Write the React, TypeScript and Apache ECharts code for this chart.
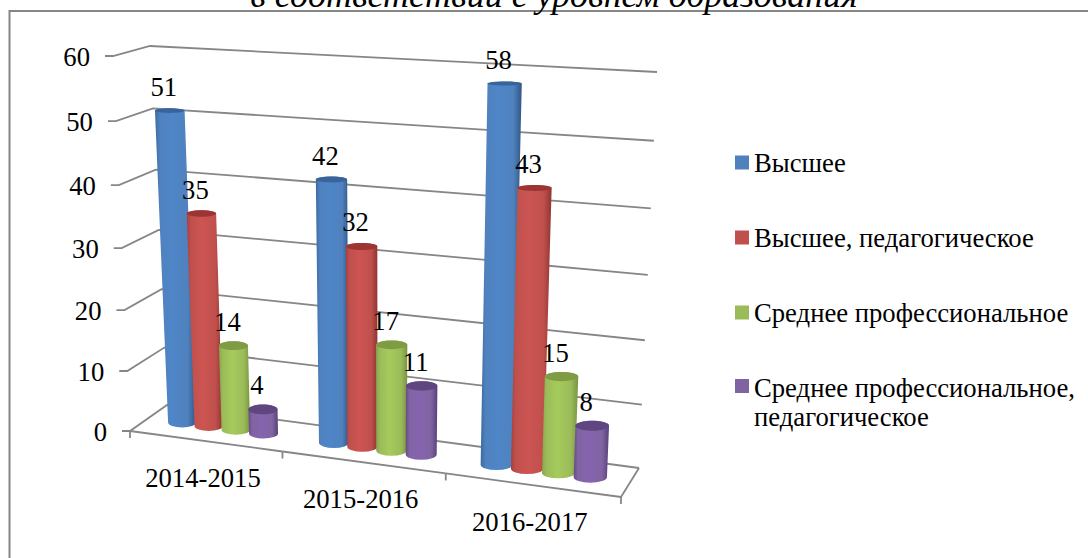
import React, { useEffect, useRef } from "react";
import * as echarts from "echarts";

const categories = ["2014-2015", "2015-2016", "2016-2017"];
const seriesNames = ["Высшее", "Высшее, педагогическое", "Среднее профессиональное", "Среднее профессиональное, педагогическое"];
const vysshee = [51, 42, 58];
const vysheePed = [35, 32, 43];
const srednee = [14, 17, 15];
const sredneePed = [4, 11, 8];
const yTicks = [0, 10, 20, 30, 40, 50, 60];
const titleText = "в соответствии с уровнем образования";

const FONT = '"Liberation Serif", "Times New Roman", serif';
const FS = 26.67;
const GRID = { left: 130, top: 56, width: 491, height: 375 };
// corners of the 3D box on screen
const C = {
  f0: [130, 431], f1: [621, 497], b0: [167, 405], b1: [639, 468],
  F0: [113, 56], F1: [639, 82], B0: [150, 46], B1: [657, 72],
};
const warp = (t: number, k: number) => t / (t + k * (1 - t));
const lerp = (a: number, b: number, t: number) => a + (b - a) * t;
// u,w are normalised 0..1 along the hidden grid, v is depth 0..1
function project(u: number, v: number, w: number) {
  const fu = warp(u, 1.11), fw = warp(w, 1.05);
  const out = [0, 0];
  for (let i = 0; i < 2; i++) {
    const bottom = lerp(lerp(C.f0[i], C.f1[i], fu), lerp(C.b0[i], C.b1[i], fu), v);
    const top = lerp(lerp(C.F0[i], C.F1[i], fu), lerp(C.B0[i], C.B1[i], fu), v);
    out[i] = lerp(bottom, top, fw);
  }
  return out;
}
function normal(api: any, u: number, val: number) {
  const p = api.coord([u, val]);
  return [(p[0] - GRID.left) / GRID.width, (GRID.top + GRID.height - p[1]) / GRID.height];
}

const palette = [
  { top: "#38649b", edgeL: "#3a6aa6", mid: "#4f86c8", edgeR: "#2f5686", base: "#4f81bd" },
  { top: "#9c3532", edgeL: "#a83f3c", mid: "#cc5552", edgeR: "#8f3431", base: "#c0504d" },
  { top: "#7f9c45", edgeL: "#86a64a", mid: "#a5cb5c", edgeR: "#789440", base: "#9bbb59" },
  { top: "#5f4680", edgeL: "#654b88", mid: "#8664ae", edgeR: "#57407a", base: "#8064a2" },
];
const OFFSETS = [0.23, 0.41, 0.592, 0.775];
const HALF_U = 0.095;
const HALF_V = 0.19;
const LINE = "#868686";

function barRender(sIdx: number) {
  return (params: any, api: any) => {
    const cat = api.value(0), val = api.value(1);
    const uc = cat + OFFSETS[sIdx];
    const [nu, nb] = normal(api, uc, 0);
    const [nl] = normal(api, uc - HALF_U, 0);
    const [nr] = normal(api, uc + HALF_U, 0);
    const nt = normal(api, uc, val)[1];
    const b = project(nu, 0.5, nb), t = project(nu, 0.5, nt);
    const bl = project(nl, 0.5, nb), br = project(nr, 0.5, nb);
    const tl = project(nl, 0.5, nt), tr = project(nr, 0.5, nt);
    const ryB = Math.abs(project(nu, 0.5 + HALF_V, nb)[1] - project(nu, 0.5 - HALF_V, nb)[1]) / 2;
    const ryT = Math.abs(project(nu, 0.5 + HALF_V, nt)[1] - project(nu, 0.5 - HALF_V, nt)[1]) / 2;
    const rxB = (br[0] - bl[0]) / 2, rxT = (tr[0] - tl[0]) / 2;
    const col = palette[sIdx];
    const d =
      `M${tl[0]} ${t[1]} A${rxT} ${ryT} 0 0 1 ${tr[0]} ${t[1]} L${br[0]} ${b[1]} ` +
      `A${rxB} ${ryB} 0 0 1 ${bl[0]} ${b[1]} Z`;
    return {
      type: "group",
      children: [
        {
          type: "path",
          shape: { pathData: d, x: Math.min(tl[0], bl[0]), y: t[1] - ryT, width: Math.max(tr[0], br[0]) - Math.min(tl[0], bl[0]), height: b[1] + ryB - t[1] + ryT },
          style: {
            fill: new echarts.graphic.LinearGradient(0, 0, 1, 0, [
              { offset: 0, color: col.edgeL },
              { offset: 0.12, color: col.base },
              { offset: 0.42, color: col.mid },
              { offset: 0.8, color: col.base },
              { offset: 1, color: col.edgeR },
            ]),
          },
        },
        { type: "ellipse", shape: { cx: t[0], cy: t[1], rx: rxT, ry: ryT }, style: { fill: col.top } },
        {
          type: "text",
          z2: 100,
          style: { text: String(val), x: t[0] - 6, y: t[1] - 24, align: "center", verticalAlign: "middle", font: `${FS}px ${FONT}`, fill: "#000" },
        },
      ],
    };
  };
}

function wallRender(params: any, api: any) {
  const val = api.value(0);
  const n = normal(api, 0, val)[1];
  const a = project(0, 0, n), b = project(0, 1, n), c = project(1, 1, n);
  const ls = { stroke: LINE, lineWidth: 1.8, fill: "none" };
  const ch: any[] = [
    { type: "polyline", shape: { points: [[a[0] - 8, a[1]], a, b, c] }, style: ls },
    {
      type: "text",
      style: { text: String(val), x: a[0] - 23, y: a[1] + 1, align: "right", verticalAlign: "middle", font: `${FS}px ${FONT}`, fill: "#000" },
    },
  ];
  return { type: "group", children: ch };
}

function floorRender(params: any, api: any) {
  const i = api.value(0);
  const n = normal(api, i, 0)[0];
  const n2 = normal(api, i + 1, 0)[0];
  const nm = normal(api, i + 0.5, 0)[0];
  const a = project(n, 0, 0), b = project(n2, 0, 0), m = project(nm, 0, 0);
  const ls = { stroke: LINE, lineWidth: 1.8, fill: "none" };
  return {
    type: "group",
    children: [
      { type: "line", shape: { x1: a[0], y1: a[1], x2: b[0], y2: b[1] }, style: ls },
      { type: "line", shape: { x1: b[0], y1: b[1], x2: b[0], y2: b[1] + 7 }, style: ls },
      ...(i === 0 ? [{ type: "line", shape: { x1: a[0], y1: a[1], x2: a[0], y2: a[1] + 7 }, style: ls }] : []),
      ...(i === 2
        ? [{ type: "polyline", shape: { points: [b, project(1, 1, 0)] }, style: ls }]
        : []),
      {
        type: "text",
        style: { text: categories[i], x: m[0] - 2, y: m[1] + 37, align: "center", verticalAlign: "middle", font: `${FS}px ${FONT}`, fill: "#000" },
      },
    ],
  };
}

const valueLists = [vysshee, vysheePed, srednee, sredneePed];

export default function App() {
  const ref = useRef<HTMLDivElement>(null);
  useEffect(() => {
    document.body.style.margin = "0";
    const chart = echarts.init(ref.current!, undefined, { renderer: "svg" });
    chart.setOption({
      animation: false,
      backgroundColor: "#fff",
      title: {
        text: titleText,
        left: 549,
        textAlign: "center",
        top: -28,
        textStyle: { fontFamily: FONT, fontStyle: "italic", fontWeight: "normal", fontSize: 36, color: "#000" },
      },
      graphic: [
        { type: "polyline", shape: { points: [[9.5, 560], [9.5, 11], [1090, 11]] }, style: { fill: "none", stroke: LINE, lineWidth: 2 }, z: -1 },
      ],
      grid: { ...GRID },
      xAxis: { type: "value", min: 0, max: 3, show: false },
      yAxis: { type: "value", min: 0, max: 60, interval: 10, show: false },
      legend: {
        orient: "vertical",
        left: 735,
        top: 149,
        padding: 0,
        itemWidth: 14,
        itemHeight: 14,
        itemGap: 48,
        selectedMode: false,
        icon: "rect",
        textStyle: {
          fontFamily: FONT,
          fontSize: FS,
          color: "#000",
          rich: { a: { fontFamily: FONT, fontSize: FS, lineHeight: 29, color: "#000" } },
        },
        formatter: (n: string) =>
          n.startsWith("Среднее") && n.includes(",")
            ? n.split(", ").map((p, i, all) => `{a|${p}${i < all.length - 1 ? "," : ""}}`).join("\n")
            : n,
        data: seriesNames.map((name, i) =>
          i === 3 ? { name, textStyle: { padding: [32, 0, 0, 0] } } : { name }
        ),
      },
      series: [
        { type: "custom", name: "_walls", silent: true, renderItem: wallRender, data: yTicks.map((t) => [t]), encode: { x: -1, y: 0 }, z: 1 },
        { type: "custom", name: "_floor", silent: true, renderItem: floorRender, data: categories.map((_, i) => [i]), encode: { x: 0, y: -1 }, z: 1 },
        ...seriesNames.map((name, s) => ({
          type: "custom",
          name,
          renderItem: barRender(s),
          itemStyle: { color: palette[s].base },
          data: categories.map((_, c) => [c, valueLists[s][c]]),
          encode: { x: 0, y: 1 },
          z: 2 + s,
        })),
      ],
    });
    return () => chart.dispose();
  }, []);
  return <div ref={ref} style={{ position: "absolute", left: 0, top: 0, width: 1088, height: 558 }} />;
}
